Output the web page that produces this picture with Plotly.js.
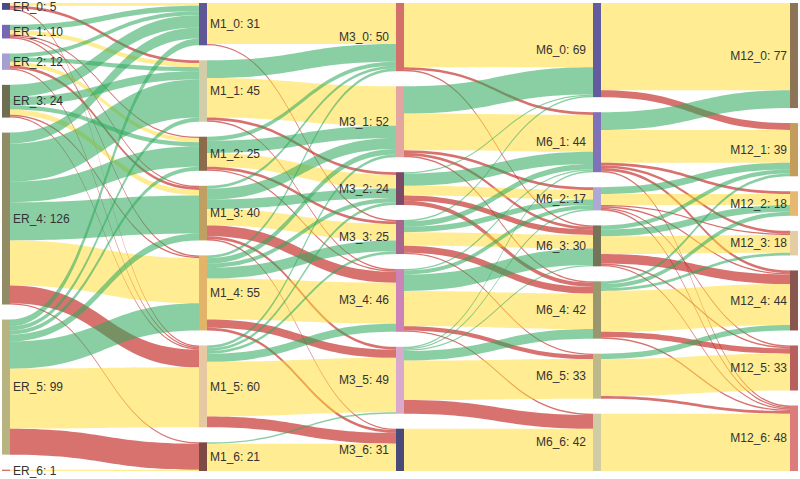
<!DOCTYPE html>
<html><head><meta charset="utf-8">
<script src="https://cdn.plot.ly/plotly-3.0.1.min.js"></script>
<style>html,body{margin:0;padding:0;background:#fff}#chart{width:800px;height:479px}</style>
</head><body><div id="chart"></div>
<script>
// Stage names and node totals (as labelled on the chart)
const stageNames = ['ER', 'M1', 'M3', 'M6', 'M12'];
const erValues  = [5, 10, 12, 24, 126, 99, 1];
const m1Values  = [31, 45, 25, 40, 55, 60, 21];
const m3Values  = [50, 52, 24, 25, 46, 49, 31];
const m6Values  = [69, 44, 17, 30, 42, 33, 42];
const m12Values = [77, 39, 18, 18, 44, 33, 48];

// Transition flows: rows = source category 0..6, cols = target category 0..6
const flowER_M1 = [
  [2, 2, 0, 0, 0, 1, 0],
  [4, 3, 1, 1, 1, 0, 0],
  [3, 3, 3, 2, 0, 1, 0],
  [9, 6, 3, 4, 1, 1, 0],
  [8, 28, 15, 28, 33, 13, 1],
  [5, 3, 3, 5, 20, 44, 19],
  [0, 0, 0, 0, 0, 0, 1]
];
const flowM1_M3 = [
  [30, 0, 0, 1, 0, 0, 0],
  [13, 29, 2, 0, 1, 0, 0],
  [3, 9, 10, 2, 1, 0, 0],
  [2, 8, 7, 12, 8, 2, 1],
  [2, 4, 3, 8, 30, 6, 2],
  [0, 2, 2, 2, 6, 40, 8],
  [0, 0, 0, 0, 0, 1, 20]
];
const flowM3_M6 = [
  [47, 2, 0, 1, 0, 0, 0],
  [20, 27, 2, 2, 1, 0, 0],
  [1, 9, 7, 4, 3, 0, 0],
  [1, 4, 4, 10, 5, 1, 0],
  [0, 1, 3, 12, 26, 3, 1],
  [0, 1, 1, 1, 7, 29, 10],
  [0, 0, 0, 0, 0, 0, 31]
];
const flowM6_M12 = [
  [64, 5, 0, 0, 0, 0, 0],
  [13, 24, 2, 2, 2, 0, 1],
  [0, 5, 8, 1, 1, 1, 1],
  [0, 3, 5, 13, 7, 1, 1],
  [0, 2, 3, 2, 30, 4, 1],
  [0, 0, 0, 0, 4, 27, 2],
  [0, 0, 0, 0, 0, 0, 42]
];

// Node colours per stage
const erColors  = ['#4c4a82', '#7468b4', '#a69fd2', '#6e6e52', '#918c66', '#b8b482', '#d87070'];
const m1Colors  = ['#5f5796', '#d2cca8', '#8c6a4c', '#c0a062', '#e2b46a', '#e6c9a2', '#7e4a44'];
const m3Colors  = ['#d4706a', '#e4a4a0', '#7a4a66', '#a8668e', '#cc84b8', '#d9aacd', '#4a4a78'];
const m6Colors  = ['#625c9e', '#7f72b8', '#aea8d4', '#767458', '#9a966e', '#bdb98a', '#d0cca4'];
const m12Colors = ['#8e7456', '#c49c5c', '#e6b870', '#e4cca4', '#8a5650', '#b8605e', '#dc7c7c'];

// Link colours: better (lower category), same, worse (higher category)
const linkBetter = 'rgba(46,170,92,0.56)';
const linkSame   = 'rgba(255,218,40,0.50)';
const linkWorse  = 'rgba(192,34,30,0.64)';

// Which stages put their label to the left of the node
const labelLeftStage = [false, false, true, true, true];

const stageValues = [erValues, m1Values, m3Values, m6Values, m12Values];
const stageColors = [erColors, m1Colors, m3Colors, m6Colors, m12Colors];
const flows = [flowER_M1, flowM1_M3, flowM3_M6, flowM6_M12];

// Figure geometry
const FIG_W = 800, FIG_H = 479;
const MARGIN = { l: 2, r: 2, t: 3, b: 8 };
const NODE_PAD = 15, NODE_THICK = 8, LABEL_GAP = 5;
const FONT = 'Arial, "Liberation Sans", sans-serif';
const plotW = FIG_W - MARGIN.l - MARGIN.r;
const plotH = FIG_H - MARGIN.t - MARGIN.b;
const lastStage = stageNames.length - 1;

// Keep every column in its category order (stacked top to bottom),
// using the same value scale Plotly applies to node heights.
const colTotals = stageValues.map(v => v.reduce((a, b) => a + b, 0));
const ky = Math.min(...stageValues.map((v, i) => (plotH - (v.length - 1) * NODE_PAD) / colTotals[i]));

const labels = [], nodeColors = [], nodeX = [], nodeY = [], annotations = [];
stageNames.forEach((s, si) => {
  let cum = 0;
  const xc = (NODE_THICK / 2 + si * (plotW - NODE_THICK) / lastStage) / plotW;
  stageValues[si].forEach((v, k) => {
    const text = s + '_' + k + ': ' + v;
    const yc = (cum * ky + k * NODE_PAD + v * ky / 2) / plotH;
    // Plotly itself flips only the last column's labels; the middle columns
    // with left-hand labels are written as annotations at the node's side.
    const useAnnotation = labelLeftStage[si] && si !== lastStage;
    labels.push(useAnnotation ? '' : text);
    nodeColors.push(stageColors[si][k]);
    nodeX.push(xc);
    nodeY.push(yc);
    if (useAnnotation) {
      annotations.push({
        xref: 'paper', yref: 'paper',
        x: xc - (NODE_THICK / 2 + LABEL_GAP) / plotW,
        y: 1 - yc,
        xanchor: 'right', yanchor: 'middle',
        text: text, showarrow: false,
        font: { family: FONT, size: 12, color: '#333' }
      });
    }
    cum += v;
  });
});

const src = [], tgt = [], val = [], lcol = [];
flows.forEach((m, si) => {
  m.forEach((row, i) => {
    row.forEach((v, j) => {
      if (v > 0) {
        src.push(si * 7 + i);
        tgt.push((si + 1) * 7 + j);
        val.push(v);
        lcol.push(j < i ? linkBetter : (j === i ? linkSame : linkWorse));
      }
    });
  });
});

const trace = {
  type: 'sankey',
  orientation: 'h',
  arrangement: 'freeform',
  node: {
    pad: NODE_PAD,
    thickness: NODE_THICK,
    line: { width: 0 },
    label: labels,
    color: nodeColors,
    x: nodeX,
    y: nodeY,
    hoverinfo: 'none'
  },
  link: {
    source: src, target: tgt, value: val, color: lcol, hoverinfo: 'none'
  },
  textfont: { family: FONT, size: 12, color: '#333', shadow: 'none' }
};

Plotly.newPlot('chart', [trace], {
  width: FIG_W, height: FIG_H,
  margin: MARGIN,
  paper_bgcolor: '#ffffff',
  font: { family: FONT, size: 12, color: '#333' },
  annotations: annotations
}, { staticPlot: true, displayModeBar: false });
</script>
</body></html>
